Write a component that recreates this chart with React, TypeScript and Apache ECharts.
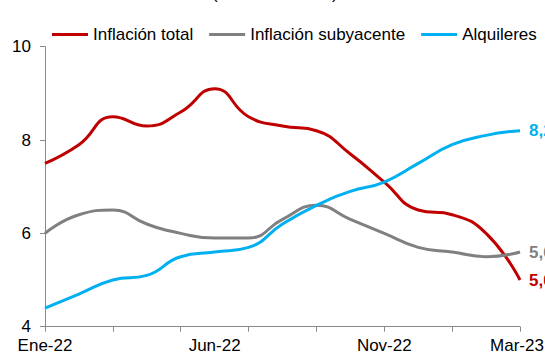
import React, { useEffect, useRef } from "react";
import * as echarts from "echarts";

// Monthly categories, Jan 2022 – Mar 2023
const months = [
  "Ene-22", "Feb-22", "Mar-22", "Abr-22", "May-22", "Jun-22", "Jul-22",
  "Ago-22", "Sep-22", "Oct-22", "Nov-22", "Dic-22", "Ene-23", "Feb-23", "Mar-23",
];

// Year-on-year rates, %
const inflacionTotal = [7.5, 7.9, 8.5, 8.3, 8.6, 9.1, 8.5, 8.3, 8.2, 7.7, 7.1, 6.5, 6.4, 6.0, 5.0];
const inflacionSubyacente = [6.0, 6.4, 6.5, 6.2, 6.0, 5.9, 5.9, 6.3, 6.6, 6.3, 6.0, 5.7, 5.6, 5.5, 5.6];
const alquileres = [4.4, 4.7, 5.0, 5.1, 5.5, 5.6, 5.7, 6.2, 6.6, 6.9, 7.1, 7.5, 7.9, 8.1, 8.2];

const seriesNames = ["Inflación total", "Inflación subyacente", "Alquileres"];
const seriesColors = ["#C00000", "#808080", "#00B0F0"];
const subtitle = "(variación anual)";

const FONT = "'Liberation Sans', Arial, sans-serif";

export default function App() {
  const ref = useRef<HTMLDivElement>(null);

  useEffect(() => {
    if (!ref.current) return;
    const chart = echarts.init(ref.current, undefined, { renderer: "svg" });

    const values = [inflacionTotal, inflacionSubyacente, alquileres];
    const lastIdx = months.length - 1;

    const series = values.map((data, i) => ({
      name: seriesNames[i],
      type: "line",
      data,
      smooth: 0.5,
      symbol: "none",
      lineStyle: { color: seriesColors[i], width: 3 },
      itemStyle: { color: seriesColors[i] },
      endLabel: {
        show: true,
        distance: 9,
        color: seriesColors[i],
        fontWeight: "bold",
        fontSize: 17,
        fontFamily: FONT,
        formatter: (p: any) => Number(p.value).toFixed(1).replace(".", ","),
      },
    }));

    chart.setOption({
      animation: false,
      backgroundColor: "#ffffff",
      textStyle: { fontFamily: FONT },
      graphic: [
        {
          type: "text",
          left: 212,
          top: -15,
          style: {
            text: subtitle,
            font: `17px ${FONT}`,
            fill: "#000000",
          },
        },
      ],
      legend: {
        top: 26,
        left: 52,
        width: 493,
        padding: 0,
        itemWidth: 36,
        itemHeight: 3,
        itemGap: 16,
        icon: "rect",
        textStyle: { fontSize: 17, color: "#000000", fontFamily: FONT },
        data: seriesNames,
      },
      grid: {
        left: 45,
        right: 25,
        top: 46.7,
        bottom: 28.3,
        containLabel: false,
        outerBoundsMode: "none",
      },
      xAxis: {
        type: "category",
        data: months,
        boundaryGap: false,
        axisLine: { show: true, lineStyle: { color: "#898989", width: 1 } },
        axisTick: {
          show: true,
          interval: 1,
          length: 5,
          lineStyle: { color: "#898989" },
        },
        axisLabel: {
          interval: (i: number) => i % 5 === 0 || i === lastIdx,
          // keep the last month's label inside the right edge
          formatter: (v: string, i: number) => (i === lastIdx ? `{last|${v}}` : v),
          rich: {
            last: {
              fontSize: 17,
              color: "#000000",
              fontFamily: FONT,
              padding: [0, 6, 0, 0],
            },
          },
          margin: 10,
          fontSize: 17,
          color: "#000000",
          fontFamily: FONT,
        },
        splitLine: { show: false },
      },
      yAxis: {
        type: "value",
        min: 4,
        max: 10,
        interval: 2,
        axisLine: { show: true, lineStyle: { color: "#898989", width: 1 } },
        axisTick: { show: true, length: 5, lineStyle: { color: "#898989" } },
        axisLabel: {
          margin: 14,
          fontSize: 17,
          color: "#000000",
          fontFamily: FONT,
        },
        splitLine: { show: false },
      },
      series,
    });

    return () => chart.dispose();
  }, []);

  return (
    <div
      style={{
        position: "fixed",
        left: 0,
        top: 0,
        width: 545,
        height: 355,
        overflow: "hidden",
        background: "#ffffff",
      }}
    >
      <div ref={ref} style={{ width: 545, height: 355 }} />
    </div>
  );
}
